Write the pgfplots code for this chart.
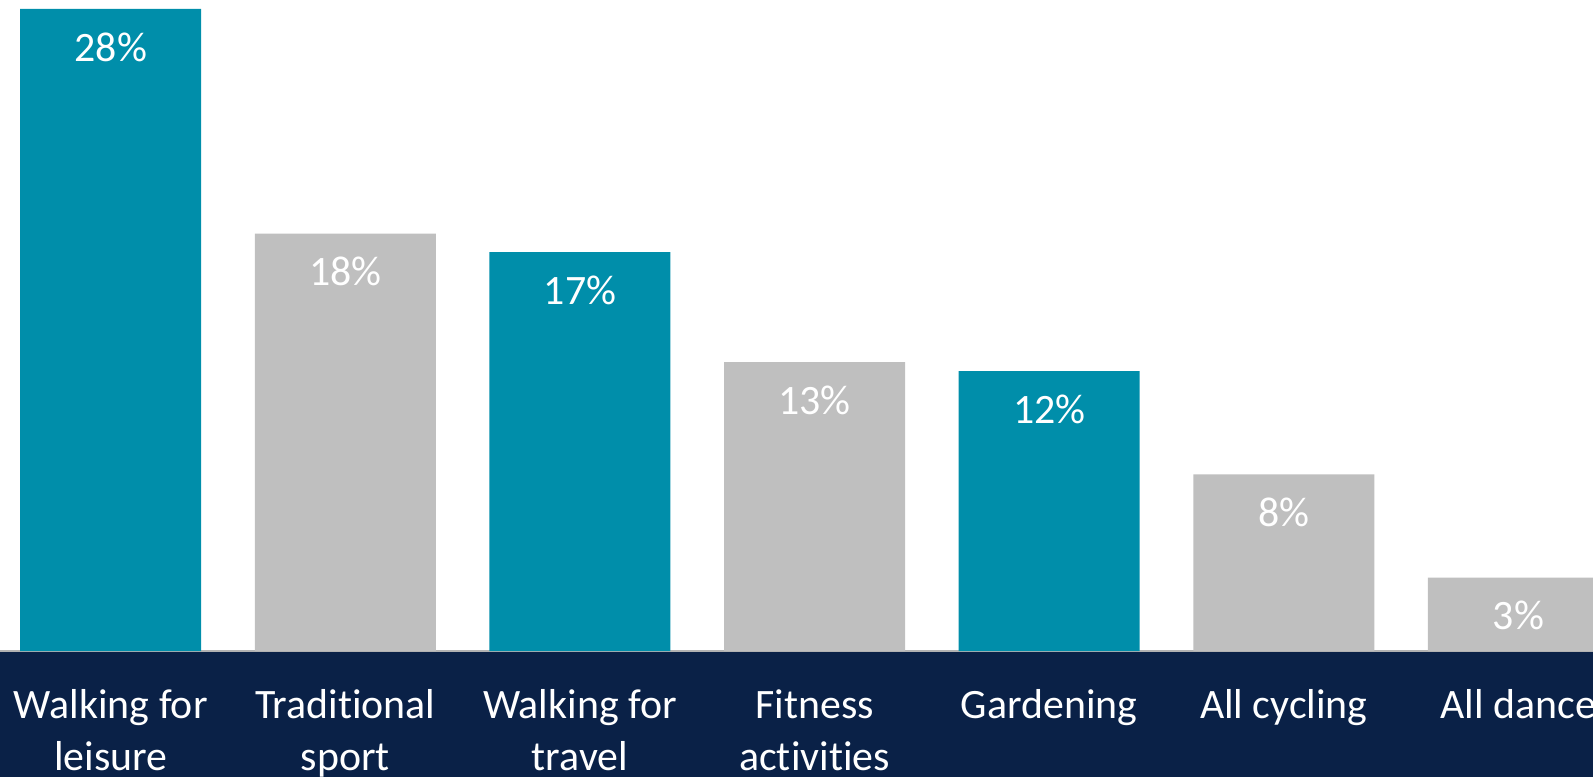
\documentclass[border=0pt]{standalone}
\usepackage{pgfplots}
\pgfplotsset{compat=1.18}
\usepackage{fontspec}
\setmainfont[Ligatures=NoCommon]{Carlito}
\definecolor{teal1}{HTML}{008EAA}
\definecolor{grey1}{HTML}{BFBFBF}
\definecolor{navy1}{HTML}{0A2147}
\pgfplotstableread{
x y lab
0 28.0 28
2 17.4 17
4 12.2 12
}\tealdata
\pgfplotstableread{
x y lab
1 18.2 18
3 12.6 13
5 7.7 8
6 3.2 3
}\greydata
\begin{document}
\begin{tikzpicture}[x=1bp,y=1bp]
\clip (0,-63) rectangle (796.5,325.5);
\fill[navy1] (0,-63) rectangle (796.5,0);
\begin{axis}[
  at={(0,0)}, anchor=south west,
  scale only axis, width=796.5bp, height=325.5bp,
  xmin=-0.472, xmax=6.318, ymin=0, ymax=28.39,
  axis y line=none, axis x line*=bottom,
  x axis line style={draw=gray!60, line width=0.6bp, -},
  ytick=\empty,
  xtick={0,1,2,3,4,5,6},
  xticklabels={Walking for\\leisure, Traditional\\sport, Walking for\\travel, Fitness\\activities, Gardening, All cycling, All dance},
  major tick length=0pt,
  xticklabel style={align=center, anchor=north, inner sep=0pt, yshift=-19bp, text=white, font=\fontsize{21}{26}\selectfont},
  ybar, bar width=0.7715, bar shift=0pt,
  clip=true,
  point meta=explicit symbolic,
  nodes near coords={\pgfplotspointmeta\%},
  every node near coord/.append style={anchor=center, yshift=-19bp, text=white, font=\fontsize{21}{26}\selectfont},
]
\addplot[fill=teal1, draw=none] table[x=x, y=y, meta=lab] {\tealdata};
\addplot[fill=grey1, draw=none] table[x=x, y=y, meta=lab] {\greydata};
\end{axis}
\end{tikzpicture}
\end{document}
